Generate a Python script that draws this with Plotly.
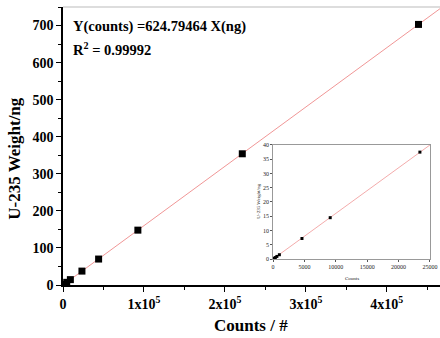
import plotly.graph_objects as go

# Data (counts vs U-235 weight in ng)
main_counts = [150, 350, 600, 1000, 4600, 9100, 23400, 44000, 92500, 221500, 439200]
main_weight = [0.25, 0.5, 0.9, 1.5, 7.2, 14.5, 37.5, 70, 148, 354, 703]
inset_counts = [150, 350, 600, 1000, 4600, 9100, 23400]
inset_weight = [0.25, 0.5, 0.9, 1.5, 7.2, 14.5, 37.5]
slope = 624.79464
fit_main_x = [0, 490000]
fit_inset_x = [0, 26000]
x_tickvals = [0, 100000, 200000, 300000, 400000]
x_ticktext = ["0", "1x10<sup>5</sup>", "2x10<sup>5</sup>", "3x10<sup>5</sup>", "4x10<sup>5</sup>"]
inset_x_ticks = [0, 5000, 10000, 15000, 20000, 25000]
inset_y_ticks = [0, 5, 10, 15, 20, 25, 30, 35, 40]

FONT = "Liberation Serif"
LINE_C = "rgb(240,150,150)"

W = 448
PW = 376  # effective plot width in px

def px(x):
    return (x - 63) / PW

fig = go.Figure()
fig.add_trace(go.Scatter(x=fit_main_x, y=[v / slope for v in fit_main_x], mode="lines",
                         line=dict(color=LINE_C, width=1), showlegend=False, hoverinfo="skip"))
fig.add_trace(go.Scatter(x=main_counts, y=main_weight, mode="markers",
                         marker=dict(symbol="square", size=7, color="black"), showlegend=False))
fig.add_trace(go.Scatter(x=fit_inset_x, y=[v / slope for v in fit_inset_x], mode="lines",
                         line=dict(color=LINE_C, width=0.8), xaxis="x2", yaxis="y2",
                         showlegend=False, hoverinfo="skip"))
fig.add_trace(go.Scatter(x=inset_counts, y=inset_weight, mode="markers",
                         marker=dict(symbol="square", size=3, color="black"),
                         xaxis="x2", yaxis="y2", showlegend=False))

fig.update_layout(
    width=W, height=338,
    margin=dict(l=63, r=0, t=7, b=53),
    paper_bgcolor="white", plot_bgcolor="white",
    font=dict(family=FONT, color="black"),
    xaxis=dict(range=[0, 467000], tickvals=x_tickvals, ticktext=x_ticktext,
               showgrid=False, zeroline=False, showline=True, linecolor="black", linewidth=1.5,
               ticks="outside", ticklen=5, tickwidth=1.2, tickcolor="black",
               minor=dict(tickvals=[50000, 150000, 250000, 350000, 450000], ticks="outside",
                          ticklen=3, tickcolor="black"),
               tickfont=dict(family=FONT, size=14, color="black", weight="bold"),
               mirror=False),
    yaxis=dict(range=[0, 750], tickvals=[0, 100, 200, 300, 400, 500, 600, 700],
               showgrid=False, zeroline=False, showline=True, linecolor="black", linewidth=1.5,
               ticks="outside", ticklen=5, tickwidth=1.2, tickcolor="black",
               minor=dict(tickvals=[50, 150, 250, 350, 450, 550, 650, 750], ticks="outside",
                          ticklen=3, tickcolor="black"),
               tickfont=dict(family=FONT, size=14, color="black", weight="bold")),
    xaxis2=dict(domain=[px(272), px(428)], anchor="y2", range=[0, 25000],
                tickvals=inset_x_ticks, ticktext=[str(v) for v in inset_x_ticks],
                showgrid=False, zeroline=False, showline=True, linecolor="#999", linewidth=0.8,
                mirror=True, ticks="outside", ticklen=2, tickcolor="#555",
                tickfont=dict(family=FONT, size=6, color="#222")),
    yaxis2=dict(domain=[0.0935, 0.5036], anchor="x2", range=[0, 40],
                tickvals=inset_y_ticks, ticktext=[str(v) for v in inset_y_ticks],
                showgrid=False, zeroline=False, showline=True, linecolor="#999", linewidth=0.8,
                mirror=True, ticks="outside", ticklen=2, tickcolor="#555",
                tickfont=dict(family=FONT, size=6, color="#222")),
    shapes=[dict(type="line", xref="paper", yref="paper", x0=0, x1=1.05, y0=1, y1=1,
                 line=dict(color="#bbb", width=1))],
    annotations=[
        dict(text="<b>Y(counts) =624.79464 X(ng)</b>", xref="paper", yref="paper",
             x=px(71), y=0.93, xanchor="left", yanchor="middle", showarrow=False,
             font=dict(family=FONT, size=14.5, color="black")),
        dict(text="<b>R<sup>2</sup> = 0.99992</b>", xref="paper", yref="paper",
             x=px(71), y=0.85, xanchor="left", yanchor="middle", showarrow=False,
             font=dict(family=FONT, size=14.5, color="black")),
        dict(text="<b>U-235 Weight/ng</b>", xref="paper", yref="paper",
             x=px(15), y=0.457, xanchor="center", yanchor="middle", textangle=-90,
             showarrow=False, font=dict(family=FONT, size=17, color="black")),
        dict(text="<b>Counts / #</b>", xref="paper", yref="paper",
             x=px(250), y=-0.144, xanchor="center", yanchor="middle", showarrow=False,
             font=dict(family=FONT, size=17, color="black")),
        dict(text="U-235 Weight/ng", xref="paper", yref="paper",
             x=px(258), y=0.3, xanchor="center", yanchor="middle", textangle=-90,
             showarrow=False, font=dict(family=FONT, size=5, color="#222")),
        dict(text="Counts", xref="paper", yref="paper",
             x=px(350), y=0.025, xanchor="center", yanchor="middle",
             showarrow=False, font=dict(family=FONT, size=5, color="#222")),
    ],
)

fig.write_html("out.html", config={"displayModeBar": False},
               post_script="document.body.style.margin='0';document.body.style.padding='0';"
                           "document.body.style.overflow='hidden';"
                           "document.documentElement.style.overflow='hidden';")
